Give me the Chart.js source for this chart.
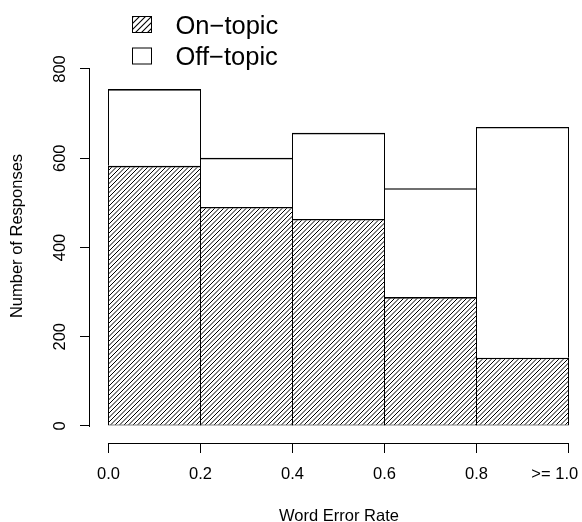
<!DOCTYPE html>
<html>
<head>
<meta charset="utf-8">
<title>Word Error Rate</title>
<script src="https://cdn.jsdelivr.net/npm/chart.js@4.4.1/dist/chart.umd.min.js"></script>
<style>
    html, body { margin: 0; padding: 0; background: #fff; overflow: hidden; }
    #wrap { width: 588px; height: 522px; }
</style>
</head>
<body>
<div id="wrap"><canvas id="chart-wer" width="588" height="522"></canvas></div>
<script>
// ==========================================
// Data
// ==========================================
const binMid = [0.1, 0.3, 0.5, 0.7, 0.9];
const onTopic = [583, 491, 464, 289, 153];
const offTopic = [172, 110, 193, 244, 517];

const xTicks = [0, 0.2, 0.4, 0.6, 0.8, 1.0];
const xTickLabels = ['0.0', '0.2', '0.4', '0.6', '0.8', '>= 1.0      '];
const yTicks = [0, 200, 400, 600, 800];

const seriesNames = ['On\u2212topic', 'Off\u2212topic'];

// ==========================================
// Hatch pattern (R style density lines)
// ==========================================
function makeHatch(step, tile, width) {
    const c = document.createElement('canvas');
    c.width = c.height = tile;
    const g = c.getContext('2d');
    g.fillStyle = '#fff';
    g.fillRect(0, 0, tile, tile);
    g.strokeStyle = '#000';
    g.lineWidth = width;
    g.beginPath();
    for (let k = -tile; k <= 2 * tile; k += step) {
        g.moveTo(-2, k + 2);
        g.lineTo(tile + 2, k - tile - 2);
    }
    g.stroke();
    return g.createPattern(c, 'repeat');
}

const hatchBars = makeHatch(4.5, 9, 1);
const hatchKey = makeHatch(6, 12, 1.1);

// ==========================================
// Axis lines + legend, drawn the R way
// ==========================================
const rAxes = {
    id: 'rAxes',
    afterDraw(chart) {
        const { ctx, chartArea, scales: { x, y } } = chart;
        ctx.save();
        ctx.strokeStyle = '#000';
        ctx.lineWidth = 1;
        ctx.beginPath();
        // x axis only spans the ticks
        ctx.moveTo(x.getPixelForValue(xTicks[0]) - 0.5, chartArea.bottom + 0.5);
        ctx.lineTo(x.getPixelForValue(xTicks[xTicks.length - 1]) + 0.5, chartArea.bottom + 0.5);
        // y axis
        ctx.moveTo(chartArea.left - 0.5, y.getPixelForValue(yTicks[yTicks.length - 1]) - 0.5);
        ctx.lineTo(chartArea.left - 0.5, y.getPixelForValue(yTicks[0]) + 1);
        ctx.stroke();

        // legend
        const fills = [hatchKey, '#ffffff'];
        ctx.font = '25.5px "Liberation Sans", Arial, sans-serif';
        ctx.textBaseline = 'alphabetic';
        ctx.textAlign = 'left';
        chart.data.datasets.forEach((ds, i) => {
            const top = 16.5 + i * 31.5;
            ctx.fillStyle = fills[i];
            ctx.fillRect(132.5, top, 19, 16);
            ctx.strokeRect(132.5, top, 19, 16);
            ctx.fillStyle = '#000';
            ctx.fillText(ds.label, 175.5, top + 17.3);
        });
        ctx.restore();
    }
};

// ==========================================
// Chart
// ==========================================
Chart.defaults.font.family = '"Liberation Sans", Arial, Helvetica, sans-serif';
Chart.defaults.font.size = 16.5;
Chart.defaults.color = '#000';

function toPoints(values) {
    return values.map((v, i) => ({ x: binMid[i], y: v }));
}

const ctxWer = document.getElementById('chart-wer');
new Chart(ctxWer, {
    type: 'bar',
    data: {
        datasets: [
            {
                label: seriesNames[0],
                data: toPoints(onTopic),
                backgroundColor: hatchBars,
                borderColor: '#000',
                borderWidth: { top: 1.6, left: 1, right: 1, bottom: 1 },
                borderSkipped: false,
                inflateAmount: 0,
                barPercentage: 93 / 92,
                categoryPercentage: 1
            },
            {
                label: seriesNames[1],
                data: toPoints(offTopic),
                backgroundColor: '#ffffff',
                borderColor: '#000',
                borderWidth: { top: 1.6, left: 1, right: 1, bottom: 0 },
                borderSkipped: false,
                inflateAmount: 0,
                barPercentage: 93 / 92,
                categoryPercentage: 1
            }
        ]
    },
    options: {
        responsive: false,
        animation: false,
        events: [],
        layout: { padding: { top: 29, left: 0, right: 0, bottom: 0 } },
        plugins: {
            legend: { display: false },
            tooltip: { enabled: false }
        },
        scales: {
            x: {
                type: 'linear',
                stacked: true,
                offset: false,
                min: -0.040217,
                max: 1.042391,
                afterBuildTicks: s => { s.ticks = xTicks.map(v => ({ value: v })); },
                afterFit: s => {
                    s.height = 79;
                    s.paddingLeft = s.paddingRight = 0;
                },
                grid: { offset: false, drawOnChartArea: false, drawTicks: true, tickLength: 10, color: '#000', lineWidth: 1 },
                border: { display: false },
                ticks: {
                    autoSkip: false,
                    maxRotation: 0,
                    padding: 12,
                    callback: (v, i) => xTickLabels[i]
                },
                title: {
                    display: true,
                    text: 'Word Error Rate',
                    padding: { top: 0, bottom: 0 },
                    font: { size: 16.5, lineHeight: 0.73 }
                }
            },
            y: {
                stacked: true,
                min: -38.095,
                max: 889.6,
                afterBuildTicks: s => { s.ticks = yTicks.map(v => ({ value: v })); },
                afterFit: s => {
                    s.width = 90;
                    s.paddingTop = s.paddingBottom = 0;
                },
                grid: { drawOnChartArea: false, drawTicks: true, tickLength: 10, color: '#000', lineWidth: 1 },
                border: { display: false },
                ticks: {
                    autoSkip: false,
                    minRotation: 90,
                    maxRotation: 90,
                    crossAlign: 'center',
                    padding: 6
                },
                title: {
                    display: true,
                    text: 'Number of Responses',
                    padding: { top: 8, bottom: 0 },
                    font: { size: 16.5 }
                }
            }
        }
    },
    plugins: [rAxes]
});
</script>
</body>
</html>
